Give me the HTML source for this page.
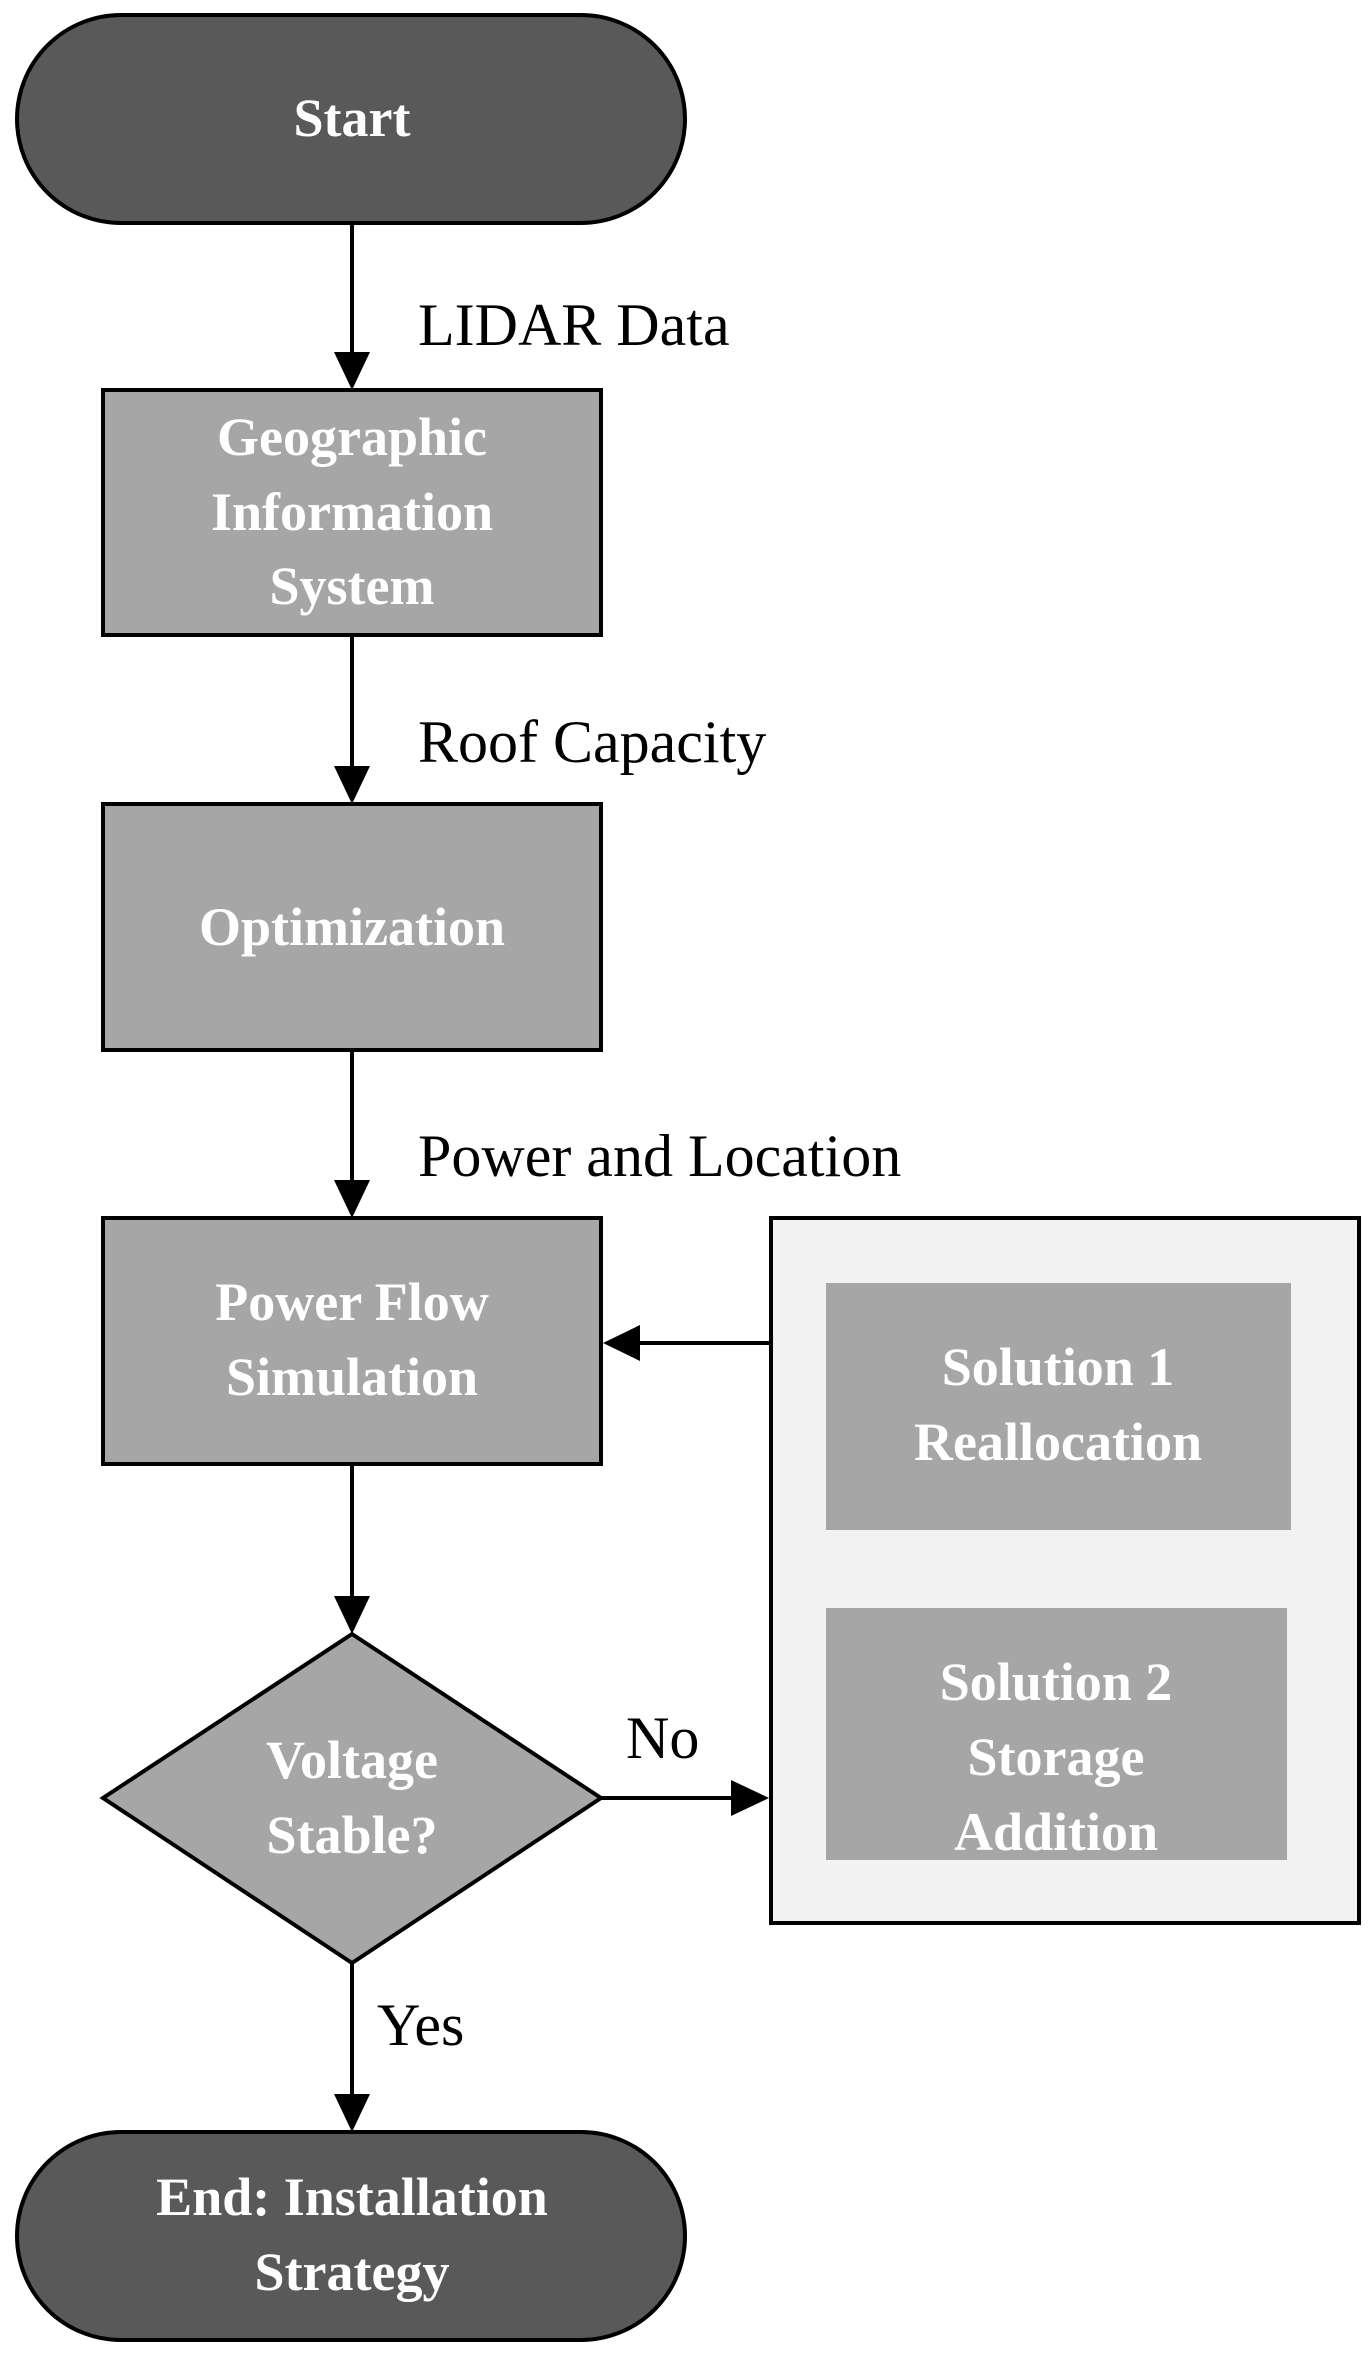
<!DOCTYPE html>
<html><head><meta charset="utf-8"><style>
html,body{margin:0;padding:0;background:#fff;}
svg{display:block;}
.t{font-family:"Liberation Serif",serif;font-weight:bold;fill:#fff;font-size:54px;text-anchor:middle;}
.l{font-family:"Liberation Serif",serif;fill:#000;font-size:60px;}
</style></head><body>
<svg width="1372" height="2366" viewBox="0 0 1372 2366" xmlns="http://www.w3.org/2000/svg">
<defs><marker id="a" markerWidth="10" markerHeight="10" refX="9" refY="5" orient="auto" markerUnits="userSpaceOnUse" viewBox="0 0 10 10"></marker></defs>
<!-- Start -->
<rect x="17" y="15" width="668" height="208" rx="104" fill="#595959" stroke="#000" stroke-width="4"/>
<text class="t" x="352" y="136">Start</text>
<!-- arrow 1 -->
<line x1="352" y1="223" x2="352" y2="355" stroke="#000" stroke-width="4"/>
<polygon points="334,352 370,352 352,390" fill="#000"/>
<text class="l" x="418" y="345">LIDAR Data</text>
<!-- GIS -->
<rect x="103" y="390" width="498" height="245" fill="#a6a6a6" stroke="#000" stroke-width="4"/>
<text class="t" x="352" y="455">Geographic</text>
<text class="t" x="352" y="530">Information</text>
<text class="t" x="352" y="604">System</text>
<line x1="352" y1="635" x2="352" y2="770" stroke="#000" stroke-width="4"/>
<polygon points="334,766 370,766 352,804" fill="#000"/>
<text class="l" x="418" y="762">Roof Capacity</text>
<!-- Optimization -->
<rect x="103" y="804" width="498" height="246" fill="#a6a6a6" stroke="#000" stroke-width="4"/>
<text class="t" x="352" y="945">Optimization</text>
<line x1="352" y1="1050" x2="352" y2="1184" stroke="#000" stroke-width="4"/>
<polygon points="334,1180 370,1180 352,1218" fill="#000"/>
<text class="l" x="418" y="1176">Power and Location</text>
<!-- Power flow -->
<rect x="103" y="1218" width="498" height="246" fill="#a6a6a6" stroke="#000" stroke-width="4"/>
<text class="t" x="352" y="1320">Power Flow</text>
<text class="t" x="352" y="1395">Simulation</text>
<!-- container -->
<rect x="771" y="1218" width="588" height="705" fill="#f2f2f2" stroke="#000" stroke-width="4"/>
<rect x="826" y="1283" width="465" height="247" fill="#a6a6a6"/>
<text class="t" x="1058" y="1385">Solution 1</text>
<text class="t" x="1058" y="1460">Reallocation</text>
<rect x="826" y="1608" width="461" height="252" fill="#a6a6a6"/>
<text class="t" x="1056" y="1700">Solution 2</text>
<text class="t" x="1056" y="1775">Storage</text>
<text class="t" x="1056" y="1850">Addition</text>
<!-- feedback arrow -->
<line x1="771" y1="1343" x2="630" y2="1343" stroke="#000" stroke-width="4"/>
<polygon points="640,1325 640,1361 603,1343" fill="#000"/>
<!-- arrow to diamond -->
<line x1="352" y1="1464" x2="352" y2="1600" stroke="#000" stroke-width="4"/>
<polygon points="334,1596 370,1596 352,1634" fill="#000"/>
<!-- diamond -->
<polygon points="352,1634 601,1798 352,1963 103,1798" fill="#a6a6a6" stroke="#000" stroke-width="4"/>
<text class="t" x="352" y="1778">Voltage</text>
<text class="t" x="352" y="1853">Stable?</text>
<!-- No arrow -->
<line x1="601" y1="1798" x2="740" y2="1798" stroke="#000" stroke-width="4"/>
<polygon points="731,1780 731,1816 769,1798" fill="#000"/>
<text class="l" x="626" y="1758">No</text>
<!-- Yes arrow -->
<line x1="352" y1="1963" x2="352" y2="2100" stroke="#000" stroke-width="4"/>
<polygon points="334,2094 370,2094 352,2132" fill="#000"/>
<text class="l" x="377" y="2045">Yes</text>
<!-- End -->
<rect x="17" y="2132" width="668" height="208" rx="104" fill="#595959" stroke="#000" stroke-width="4"/>
<text class="t" x="352" y="2215">End: Installation</text>
<text class="t" x="352" y="2290">Strategy</text>
</svg>
</body></html>
